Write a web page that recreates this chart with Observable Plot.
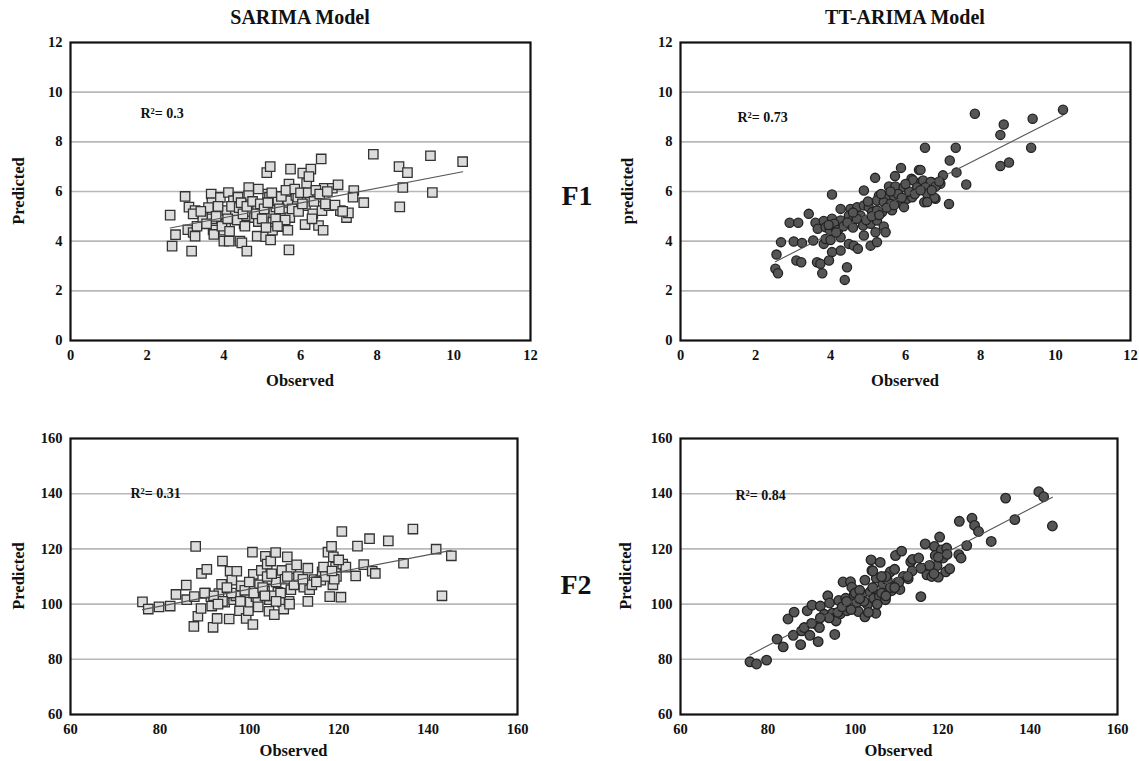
<!DOCTYPE html>
<html>
<head>
<meta charset="utf-8">
<script src="https://cdn.jsdelivr.net/npm/d3@7"></script>
<script src="https://cdn.jsdelivr.net/npm/@observablehq/plot@0.6"></script>
<style>
  html, body { margin: 0; padding: 0; background: #fff; }
  #wrap { position: relative; width: 1139px; height: 761px; background: #fff; overflow: hidden;
          font-family: "Liberation Serif", "DejaVu Serif", serif; font-weight: bold; color: #111; }
  .lbl { position: absolute; white-space: nowrap; transform: translate(-50%, -50%); line-height: 1; }
  .rot { transform: translate(-50%, -50%) rotate(-90deg); }
  .panel { position: absolute; }
</style>
</head>
<body>
<div id="wrap"></div>
<script>
// ---------------- DATA ----------------
const columnTitles = ["SARIMA Model", "TT-ARIMA Model"];
const rowLabels = ["F1", "F2"];
const xLabels = ["Observed", "Observed", "Observed", "Observed"];
const yLabels = ["Predicted", "predicted", "Predicted", "Predicted"];
const r2Labels = ["R\u00B2= 0.3", "R\u00B2= 0.73", "R\u00B2= 0.31", "R\u00B2= 0.84"];
const f1Ticks = [0, 2, 4, 6, 8, 10, 12];
const f2Ticks = [60, 80, 100, 120, 140, 160];

// F1 – SARIMA (observed, predicted)
const f1SarimaObs = [2.6,2.65,2.74,2.99,3.06,3.09,3.16,3.2,3.25,3.25,3.3,3.45,3.67,3.69,3.69,3.72,3.74,3.6,3.91,3.93,4.0,4.0,4.05,4.12,4.08,4.14,4.25,4.3,4.37,4.42,4.47,4.53,4.57,4.6,4.65,4.65,4.7,4.8,4.88,4.9,4.87,5.09,5.12,5.21,5.14,5.19,5.22,5.27,5.28,5.3,5.36,5.41,5.52,5.57,5.67,5.7,5.74,5.72,5.7,5.67,5.88,5.93,6.06,6.16,6.12,6.13,6.27,6.25,6.32,6.43,6.47,6.54,6.59,6.56,6.62,6.74,6.83,6.98,7.04,7.2,7.25,7.39,7.37,7.65,7.9,8.57,8.59,8.67,8.79,9.39,9.44,10.23,
  3.2,3.4,3.55,3.8,3.85,3.95,4.1,4.2,4.35,4.4,4.45,4.5,4.55,4.6,4.75,4.85,4.95,5.0,5.05,5.1,5.15,5.25,5.35,5.45,5.5,5.6,5.62,5.78,5.85,5.95,6.0,6.05,6.2,6.22,6.35,6.4,6.5,6.65,6.7,6.9,7.1,6.3,5.4,4.9,4.15];
const f1SarimaPred = [5.05,3.8,4.26,5.8,4.46,5.37,3.6,4.35,5.23,4.2,4.6,4.96,5.9,5.55,4.9,4.45,4.27,5.35,5.76,5.1,4.44,4.0,4.7,5.96,5.23,4.0,5.63,5.16,5.77,4.0,3.93,4.7,5.03,3.6,6.16,5.84,5.2,4.95,5.38,4.79,4.2,4.18,6.76,7.0,5.9,5.77,4.05,4.44,4.78,5.14,5.38,5.63,4.58,5.18,5.63,6.3,6.9,4.95,3.65,4.44,5.84,5.77,6.74,6.32,4.67,5.43,6.9,5.77,5.1,5.77,4.63,7.31,4.44,5.23,6.13,5.43,6.13,6.27,5.23,4.95,5.14,6.04,5.77,5.55,7.5,7.0,5.38,6.16,6.76,7.44,5.96,7.2,
  5.1,5.2,4.7,5.0,5.4,4.6,4.9,5.4,4.85,5.35,5.55,5.1,4.6,5.4,5.6,5.1,5.5,4.9,5.3,4.55,5.55,5.95,4.9,5.3,5.8,4.85,6.05,5.3,6.1,5.2,5.95,5.5,5.95,6.6,5.6,6.05,5.9,5.5,6.0,5.45,5.2,4.9,4.6,6.1,4.4];

// F1 – TT-ARIMA
const f1TtObs = [6.52,5.88,6.36,5.19,5.72,6.16,6.2,6.42,6.69,5.56,5.73,5.95,6.31,6.58,6.84,4.89,4.04,5.29,5.51,5.69,5.24,5.42,5.6,5.87,6.04,6.18,6.58,6.8,6.5,4.27,4.53,4.71,4.89,5.02,5.11,5.24,5.38,5.64,5.96,3.42,2.91,3.14,3.6,3.82,4.04,4.27,3.66,3.87,3.98,4.13,4.49,4.58,4.8,4.87,4.89,5.07,5.2,5.24,5.42,5.47,2.68,3.02,3.24,3.54,3.82,2.56,3.87,4.0,4.27,4.49,4.62,4.73,4.27,4.04,5.07,5.24,3.09,3.22,3.64,3.73,3.96,2.53,2.6,3.78,4.44,4.38,
  10.2,7.85,9.39,8.62,8.53,7.34,9.35,7.18,8.53,8.76,6.4,7.36,7.0,7.62,6.47,6.67,6.93,6.8,6.53,6.58,6.77,6.58,7.16,
  4.1,4.2,4.35,4.45,4.6,4.7,4.95,5.1,5.3,5.5,5.7,5.8,5.9,6.1,6.25,6.4,6.0,5.35,4.15,3.95,5.6,6.7,5.0,4.6,6.9];
const f1TtPred = [7.76,6.95,6.87,6.55,6.62,6.51,6.45,6.38,6.38,6.2,6.2,6.17,6.17,6.1,6.27,6.04,5.88,5.83,5.83,5.83,5.64,5.57,5.5,5.64,5.71,5.77,5.64,5.71,5.57,5.3,5.3,5.37,5.44,5.37,5.17,5.24,5.17,5.24,5.37,5.1,4.74,4.74,4.74,4.81,4.9,4.83,4.5,4.56,4.46,4.56,5.03,4.83,5.03,4.63,4.23,4.7,4.36,4.83,4.59,4.36,3.96,3.99,3.93,4.03,3.89,3.46,4.09,4.05,4.16,3.89,3.82,3.69,3.62,3.56,3.82,3.96,3.22,3.15,3.15,3.09,3.22,2.89,2.71,2.71,2.95,2.44,
  9.29,9.13,8.93,8.7,8.28,7.76,7.76,7.25,7.03,7.17,6.87,6.77,6.65,6.28,6.44,6.38,6.31,6.2,6.17,5.91,5.75,5.58,5.5,
  4.7,4.45,4.6,4.75,4.55,4.9,4.85,5.0,5.05,5.35,5.45,5.9,5.75,6.0,5.9,6.05,6.3,5.9,4.35,4.65,6.0,6.05,5.6,5.15,6.4];

// F2 – SARIMA
const f2SarimaObs = [76.1,77.4,79.8,82.3,83.6,85.9,86.0,87.7,88.0,87.6,88.5,89.2,89.3,90.5,90.2,91.9,91.6,91.4,92.8,93.2,93.8,94.0,94.5,95.5,95.7,96.1,96.5,97.2,97.8,98.2,99.3,99.4,99.8,100.2,100.7,100.8,100.9,101.5,101.9,102.3,102.7,103.4,103.6,104.0,104.2,104.4,104.5,104.8,105.6,105.9,106.4,107.3,107.4,107.7,108.5,108.9,109.3,109.3,110.6,112.2,113.1,113.1,113.5,114.5,116.0,116.3,116.6,117.6,118.0,118.4,118.7,118.8,119.3,119.5,120.5,120.7,120.9,121.6,123.8,124.2,125.6,126.9,127.5,128.2,131.1,134.5,136.6,141.8,143.1,145.2,
  97,99,101,103,105,106,108,110,104,96,94,92,100,107,111,114,117,119,102,98,95,105,109,112,106,90,93,103.5,108.5,115,120,118.5];
const f2SarimaPred = [100.8,98.2,99.0,99.3,103.5,106.9,101.6,102.7,120.9,91.9,95.6,98.4,111.1,112.6,104.0,91.6,99.3,102.7,94.8,103.8,107.2,115.6,100.7,94.6,111.9,108.7,101.6,111.9,97.6,106.6,94.8,103.8,97.6,100.7,118.8,92.6,110.8,102.7,100.7,107.0,112.2,104.6,117.3,114.5,108.9,97.4,101.6,115.6,96.2,118.7,104.3,112.2,100.7,98.2,117.1,101.0,112.8,105.2,114.2,106.1,113.0,101.0,105.2,108.9,108.7,111.7,113.4,118.8,102.7,120.9,107.0,117.1,113.4,110.0,102.5,126.3,114.5,113.4,110.2,121.0,114.3,123.7,111.9,111.1,122.9,114.8,127.2,119.9,103.0,117.5,
  103,105,104,106,103,108,109,107,110,104,101,103,108,104,110,107,110,109,99,101,106,111,100,109,101,104,100,103,110,108,116,112];

// F2 – TT-ARIMA
const f2TtObs = [75.9,77.4,79.7,82.1,83.5,84.6,85.8,86.0,87.5,87.7,88.3,89.0,89.6,90.1,91.2,91.5,91.8,92.0,92.9,93.7,94.1,94.8,95.3,95.6,96.2,96.6,97.2,97.8,98.1,98.9,99.2,99.7,100.3,100.7,101.5,102.2,102.2,102.8,103.4,103.6,103.8,104.2,104.7,104.8,105.7,105.5,106.3,106.9,107.3,108.0,108.3,109.0,109.2,109.6,110.2,110.6,112.1,112.7,113.1,114.5,115.0,115.6,116.0,116.4,117.5,118.1,118.3,118.7,119.0,119.3,119.7,120.1,120.7,120.9,121.6,123.7,123.8,124.2,125.5,126.7,127.3,128.2,131.1,134.4,136.5,142.0,143.1,145.1,
  100,102,104,106,107,108,105,103,101,96,94,97,99,111,113,117,119,121,118,110,106,104,90,92,98,101,109,115,112,107];
const f2TtPred = [79.1,78.3,79.7,87.3,84.5,94.6,88.7,97.1,85.3,90.3,91.5,97.6,88.7,99.6,92.6,86.4,91.5,99.3,96.3,103.0,100.4,96.7,89.0,93.9,101.3,96.5,108.0,102.1,97.6,108.1,106.1,103.3,100.4,97.3,103.6,108.7,95.4,99.9,104.4,116.0,112.2,102.1,96.7,109.4,115.1,102.9,107.2,101.6,108.9,111.7,104.9,112.6,117.6,107.8,105.3,119.2,109.2,115.3,116.2,116.7,102.7,113.0,121.8,110.6,110.0,120.9,117.6,113.9,109.8,124.3,119.6,116.7,111.7,120.3,112.8,117.9,130.0,116.7,121.2,131.1,128.5,126.3,122.7,138.4,130.6,140.7,138.9,128.3,
  104,101,106,104,110,106,100,97,105,97,95,99,98,110,112,114,117,118,111,108,110,112,93,95,101,102,106,113,110,103];

// ---------------- DRAWING ----------------
const wrap = document.getElementById("wrap");
const FONT = '"Liberation Serif", "DejaVu Serif", serif';

function zip(xs, ys) { return xs.map((x, i) => ({obs: x, pred: ys[i]})); }

function label(text, x, y, size, rotate) {
  const d = document.createElement("div");
  d.className = rotate ? "lbl rot" : "lbl";
  d.textContent = text;
  d.style.left = x + "px"; d.style.top = y + "px"; d.style.fontSize = size + "px";
  wrap.appendChild(d);
}

function panel(cfg) {
  const data = zip(cfg.obs, cfg.pred);
  const [x0, y0, x1, y1] = cfg.frame;
  const fw = x1 - x0, fh = y1 - y0;
  const m = {l: 40, t: 12, r: 8, b: 26};
  const chart = Plot.plot({
    width: fw + m.l + m.r,
    height: fh + m.t + m.b,
    marginLeft: m.l, marginTop: m.t, marginRight: m.r, marginBottom: m.b,
    style: {fontFamily: FONT, fontWeight: "bold", fontSize: "14.5px", color: "#111", background: "transparent", overflow: "visible"},
    x: {domain: cfg.domain, ticks: cfg.ticks},
    y: {domain: cfg.domain, ticks: cfg.ticks},
    marks: [
      Plot.gridY(cfg.ticks.slice(1, -1), {stroke: "#b8b8b8", strokeOpacity: 1, strokeWidth: 1.6}),
      Plot.axisX(cfg.ticks, {tickSize: 0, tickPadding: 9, label: null}),
      Plot.axisY(cfg.ticks, {tickSize: 0, tickPadding: 8, label: null}),
      Plot.dot(data, {x: "obs", y: "pred", symbol: cfg.symbol, r: cfg.r, fill: cfg.fill, stroke: cfg.stroke, strokeWidth: 1.3}),
      Plot.linearRegressionY(data, {x: "obs", y: "pred", ci: 0, stroke: "#555", strokeWidth: 1.1}),
      Plot.text([cfg.r2], {text: d => d, frameAnchor: "top-left", textAnchor: "start", lineAnchor: "middle", dx: cfg.r2pos[0], dy: cfg.r2pos[1], fontSize: 14, fontWeight: "bold", fill: "#111"}),
      Plot.frame({stroke: "#111", strokeWidth: 2.2})
    ]
  });
  chart.classList.add("panel");
  chart.style.left = (x0 - m.l) + "px";
  chart.style.top = (y0 - m.t) + "px";
  wrap.appendChild(chart);
  label(cfg.xlabel, (x0 + x1) / 2, y1 + cfg.xlabelGap, 16.5, false);
  label(cfg.ylabel, cfg.ylabelX, (y0 + y1) / 2, 16.5, true);
}

panel({obs: f1SarimaObs, pred: f1SarimaPred, domain: [0, 12], ticks: f1Ticks, frame: [70, 42, 530, 340],
       symbol: "square", r: 5.3, fill: "#dcdcdc", stroke: "#333", xlabel: xLabels[0], xlabelGap: 41, ylabel: yLabels[0], ylabelX: 19,
       r2: r2Labels[0], r2pos: [70, 71]});
panel({obs: f1TtObs, pred: f1TtPred, domain: [0, 12], ticks: f1Ticks, frame: [680, 42, 1130, 340],
       symbol: "circle", r: 4.6, fill: "#555", stroke: "#222", xlabel: xLabels[1], xlabelGap: 41, ylabel: yLabels[1], ylabelX: 628,
       r2: r2Labels[1], r2pos: [57, 75]});
panel({obs: f2SarimaObs, pred: f2SarimaPred, domain: [60, 160], ticks: f2Ticks, frame: [70, 438, 517, 714],
       symbol: "square", r: 5.3, fill: "#dcdcdc", stroke: "#333", xlabel: xLabels[2], xlabelGap: 37, ylabel: yLabels[2], ylabelX: 19,
       r2: r2Labels[2], r2pos: [60, 55]});
panel({obs: f2TtObs, pred: f2TtPred, domain: [60, 160], ticks: f2Ticks, frame: [680, 438, 1117, 714],
       symbol: "circle", r: 4.8, fill: "#555", stroke: "#222", xlabel: xLabels[3], xlabelGap: 37, ylabel: yLabels[3], ylabelX: 626,
       r2: r2Labels[3], r2pos: [55, 57]});

label(columnTitles[0], 300, 17, 20, false);
label(columnTitles[1], 905, 17, 20, false);
label(rowLabels[0], 577, 196, 28, false);
label(rowLabels[1], 576, 585, 28, false);
</script>
</body>
</html>
